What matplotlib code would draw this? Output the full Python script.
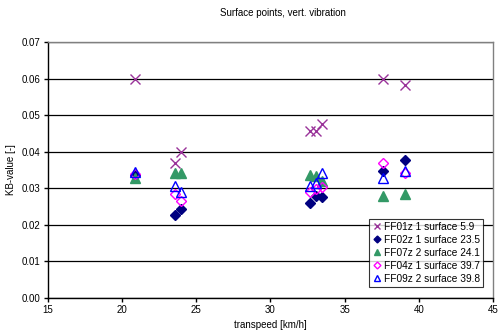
import matplotlib.pyplot as plt

plt.rcParams['font.family'] = ['Liberation Sans', 'DejaVu Sans']

# FF01z 1 surface 5.9
x_ff01 = [20.9, 23.6, 24.0, 32.7, 33.1, 33.5, 37.6, 39.1]
y_ff01 = [0.0600, 0.0370, 0.0399, 0.0457, 0.0458, 0.0476, 0.0599, 0.0583]
# FF02z 1 surface 23.5
x_ff02 = [20.9, 23.6, 24.0, 32.7, 33.1, 33.5, 37.6, 39.1]
y_ff02 = [0.0337, 0.0227, 0.0243, 0.0260, 0.0279, 0.0275, 0.0348, 0.0377]
# FF07z 2 surface 24.1
x_ff07 = [20.9, 23.6, 24.0, 32.7, 33.1, 33.5, 37.6, 39.1]
y_ff07 = [0.0328, 0.0342, 0.0342, 0.0336, 0.0334, 0.0320, 0.0279, 0.0284]
# FF04z 1 surface 39.7
x_ff04 = [20.9, 23.6, 24.0, 32.7, 33.1, 33.5, 37.6, 39.1]
y_ff04 = [0.0339, 0.0284, 0.0265, 0.0291, 0.0297, 0.0304, 0.0370, 0.0341]
# FF09z 2 surface 39.8
x_ff09 = [20.9, 23.6, 24.0, 32.7, 33.1, 33.5, 37.6, 39.1]
y_ff09 = [0.0345, 0.0306, 0.0289, 0.0307, 0.0315, 0.0343, 0.0329, 0.0348]

fig = plt.figure(figsize=(4.98, 3.35), dpi=100)
ax = fig.add_axes([47.7 / 498, 1 - 298 / 335, (493 - 47.7) / 498, (298 - 42) / 335])

ax.plot(x_ff01, y_ff01, linestyle='none', marker='x', markersize=7, markeredgewidth=1,
        color='#993399', label='FF01z 1 surface 5.9')
ax.plot(x_ff02, y_ff02, linestyle='none', marker='D', markersize=5,
        color='#000080', label='FF02z 1 surface 23.5')
ax.plot(x_ff07, y_ff07, linestyle='none', marker='^', markersize=7,
        color='#339966', label='FF07z 2 surface 24.1')
ax.plot(x_ff04, y_ff04, linestyle='none', marker='D', markersize=5, markerfacecolor='none',
        markeredgecolor='#FF00FF', markeredgewidth=1, label='FF04z 1 surface 39.7')
ax.plot(x_ff09, y_ff09, linestyle='none', marker='^', markersize=7, markerfacecolor='none',
        markeredgecolor='#0000FF', markeredgewidth=1, label='FF09z 2 surface 39.8')

ax.set_xlim(15, 45)
ax.set_ylim(0, 0.07)
ax.set_xticks(range(15, 46, 5))
ax.set_yticks([i / 100 for i in range(0, 8)])
ax.set_yticklabels([f'{i / 100:.2f}' for i in range(0, 8)])
ax.tick_params(direction='out', length=3, width=1, labelsize=7, pad=2, colors='black')
ax.grid(axis='y', color='black', linewidth=0.9)
ax.set_axisbelow(True)

for s in ['left', 'bottom']:
    ax.spines[s].set_color('black')
    ax.spines[s].set_linewidth(1)
for s in ['top', 'right']:
    ax.spines[s].set_color('#808080')
    ax.spines[s].set_linewidth(1)

ax.set_xlabel('transpeed [km/h]', fontsize=7, labelpad=4)
ax.set_ylabel('KB-value [-]', fontsize=7, labelpad=4)
fig.text(283 / 498, 1 - 13 / 335, 'Surface points, vert. vibration', fontsize=7,
         ha='center', va='center')

leg = ax.legend(loc='lower right', bbox_to_anchor=((483 - 47.7) / 445.3, (298 - 287) / 256),
                fontsize=7.3, frameon=True, fancybox=False, edgecolor='black',
                borderpad=0.3, handlelength=1.0, handletextpad=0.15, labelspacing=0.3,
                borderaxespad=0, markerscale=0.7)
leg.get_frame().set_linewidth(0.8)

fig.savefig('out.png', dpi=100)
